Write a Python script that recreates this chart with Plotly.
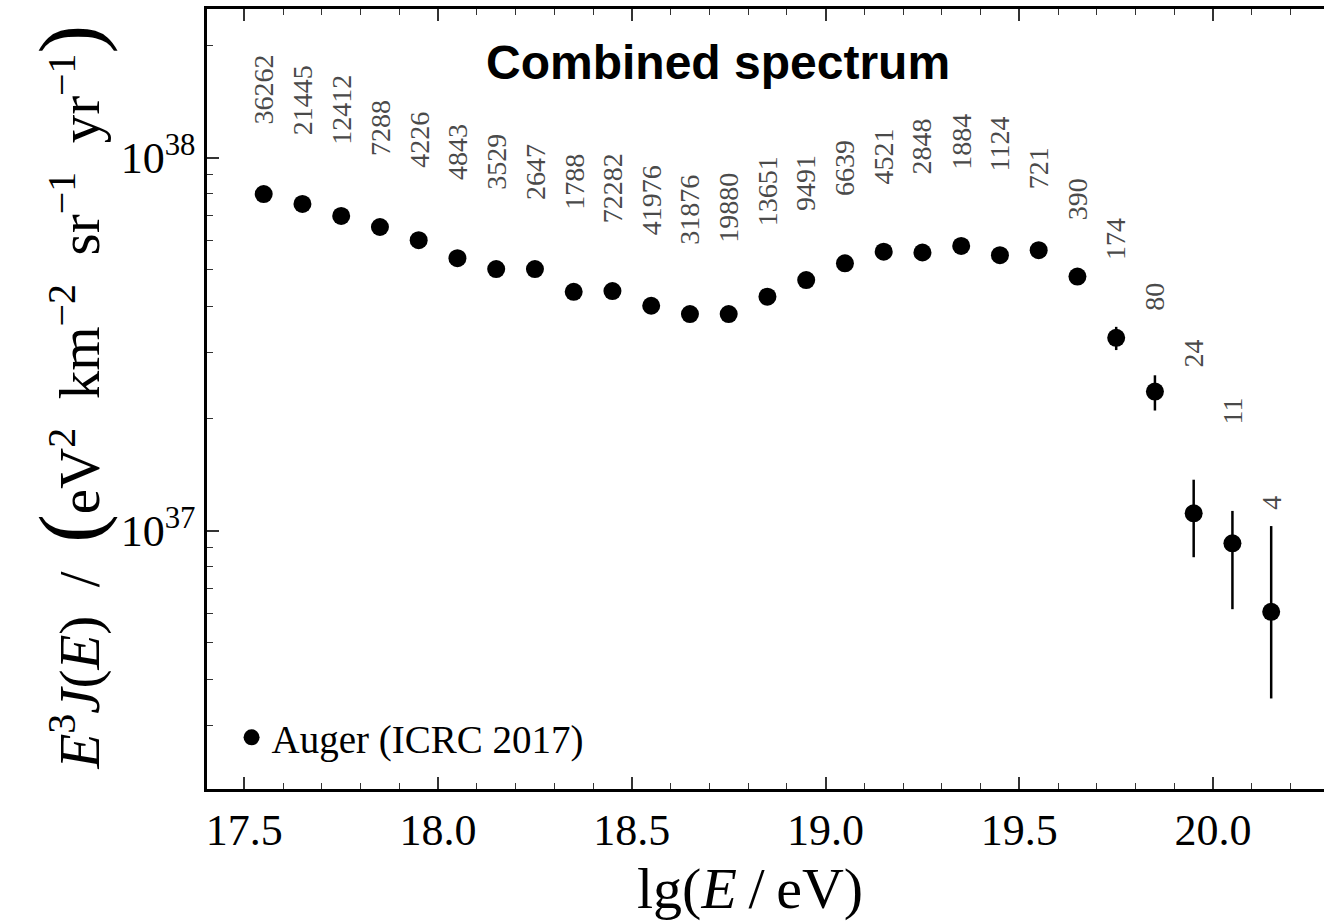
import plotly.graph_objects as go

# ---- data ----
lgE = [17.55, 17.65, 17.75, 17.85, 17.95, 18.05, 18.15, 18.25, 18.35, 18.45,
       18.55, 18.65, 18.75, 18.85, 18.95, 19.05, 19.15, 19.25, 19.35, 19.45,
       19.55, 19.65, 19.75, 19.85, 19.95, 20.05, 20.15]
flux = [7.99e37, 7.52e37, 6.98e37, 6.52e37, 6.01e37, 5.38e37, 5.03e37, 5.03e37, 4.37e37, 4.39e37,
        4.01e37, 3.81e37, 3.81e37, 4.24e37, 4.70e37, 5.21e37, 5.60e37, 5.57e37, 5.80e37, 5.48e37,
        5.65e37, 4.80e37, 3.29e37, 2.36e37, 1.113e37, 9.25e36, 6.06e36]
err_up = [0.5e36, 0.5e36, 0.5e36, 0.5e36, 0.5e36, 0.5e36, 0.5e36, 0.5e36, 0.5e36, 0.5e36,
          0.5e36, 0.5e36, 0.5e36, 0.5e36, 0.5e36, 0.6e36, 0.7e36, 0.8e36, 1.0e36, 1.2e36,
          1.5e36, 2.0e36, 2.3e36, 2.5e36, 2.57e36, 2.05e36, 4.23e36]
err_dn = [0.5e36, 0.5e36, 0.5e36, 0.5e36, 0.5e36, 0.5e36, 0.5e36, 0.5e36, 0.5e36, 0.5e36,
          0.5e36, 0.5e36, 0.5e36, 0.5e36, 0.5e36, 0.6e36, 0.7e36, 0.8e36, 1.0e36, 1.2e36,
          1.5e36, 2.0e36, 2.4e36, 2.6e36, 2.64e36, 3.09e36, 2.51e36]
events = ["36262", "21445", "12412", "7288", "4226", "4843", "3529", "2647", "1788", "72282",
          "41976", "31876", "19880", "13651", "9491", "6639", "4521", "2848", "1884", "1124",
          "721", "390", "174", "80", "24", "11", "4"]
# label base heights (log10 of flux units)
label_lgy = [38.083, 38.056, 38.030, 37.999, 37.967, 37.936, 37.909, 37.881, 37.854, 37.820,
             37.787, 37.761, 37.766, 37.812, 37.852, 37.892, 37.922, 37.951, 37.963, 37.959,
             37.909, 37.828, 37.721, 37.584, 37.431, 37.279, 37.051]
x_ticks = [17.5, 18.0, 18.5, 19.0, 19.5, 20.0]
x_ticktext = ["17.5", "18.0", "18.5", "19.0", "19.5", "20.0"]

serif = "Liberation Serif"

fig = go.Figure()
fig.add_trace(go.Scatter(
    x=lgE, y=flux, mode="markers", name="Auger (ICRC 2017)",
    marker=dict(color="black", size=18, symbol="circle"),
    error_y=dict(type="data", symmetric=False, array=err_up, arrayminus=err_dn,
                 color="black", thickness=2.5, width=0),
))

annotations = []
for x, t, ly in zip(lgE, events, label_lgy):
    annotations.append(dict(x=x, y=ly, xref="x", yref="y", text=t, showarrow=False,
                            textangle=-90, xanchor="center", yanchor="bottom",
                            font=dict(family=serif, size=28, color="#4a4a4a")))

annotations.append(dict(x=0.4575, y=0.932, xref="paper", yref="paper",
                        text="<b>Combined spectrum</b>", showarrow=False,
                        xanchor="center", yanchor="middle",
                        font=dict(family="Liberation Sans", size=48, color="black")))

ytitle = ("<i>E</i><sup>3</sup><i>J</i>(<i>E</i>)  /  "
          "<span style='font-size:86px'>(</span>eV<sup>2</sup>  km<sup>−2</sup>  "
          "sr<sup>−1</sup>  yr<sup>−1</sup><span style='font-size:86px'>)</span>")
annotations.append(dict(x=-0.123, y=0.5026, xref="paper", yref="paper", text=ytitle,
                        showarrow=False, textangle=-90, xanchor="center", yanchor="middle",
                        font=dict(family=serif, size=57, color="black")))
annotations.append(dict(x=0.486, y=-0.127, xref="paper", yref="paper",
                        text="lg(<i>E</i>\u2009/\u2009eV)", showarrow=False,
                        xanchor="center", yanchor="middle",
                        font=dict(family=serif, size=58, color="black")))

ymin_tick = [k * 1e36 for k in range(2, 10)] + [k * 1e37 for k in range(2, 10)] + [2e38]

fig.update_layout(
    width=1324, height=922,
    margin=dict(l=207, r=0, t=9, b=133),
    paper_bgcolor="white", plot_bgcolor="white",
    showlegend=True,
    legend=dict(x=0.022, y=0.066, xanchor="left", yanchor="middle",
                bgcolor="rgba(0,0,0,0)", font=dict(family=serif, size=39, color="black"),
                itemsizing="trace"),
    annotations=annotations,
    xaxis=dict(range=[17.4037, 20.2863], showgrid=False, zeroline=False,
               showline=True, linecolor="black", linewidth=2.5, mirror="allticks",
               ticks="inside", ticklen=12, tickwidth=1.5, tickcolor="#333",
               tickvals=x_ticks, ticktext=x_ticktext,
               tickfont=dict(family=serif, size=44, color="black"),
               minor=dict(ticks="inside", ticklen=6, tickwidth=1.2, tickcolor="#333",
                          dtick=0.1, showgrid=False)),
    yaxis=dict(type="log", range=[36.3075, 38.3987], showgrid=False, zeroline=False,
               showline=True, linecolor="black", linewidth=2.5, mirror=False,
               ticks="inside", ticklen=12, tickwidth=1.5, tickcolor="#333",
               tickvals=[1e37, 1e38], ticktext=["10<sup>37</sup>", "10<sup>38</sup>"],
               tickfont=dict(family=serif, size=44, color="black"),
               minor=dict(ticks="inside", ticklen=6, tickwidth=1.2, tickcolor="#333",
                          tickvals=ymin_tick, showgrid=False)),
)

fig.write_html("out.html")
